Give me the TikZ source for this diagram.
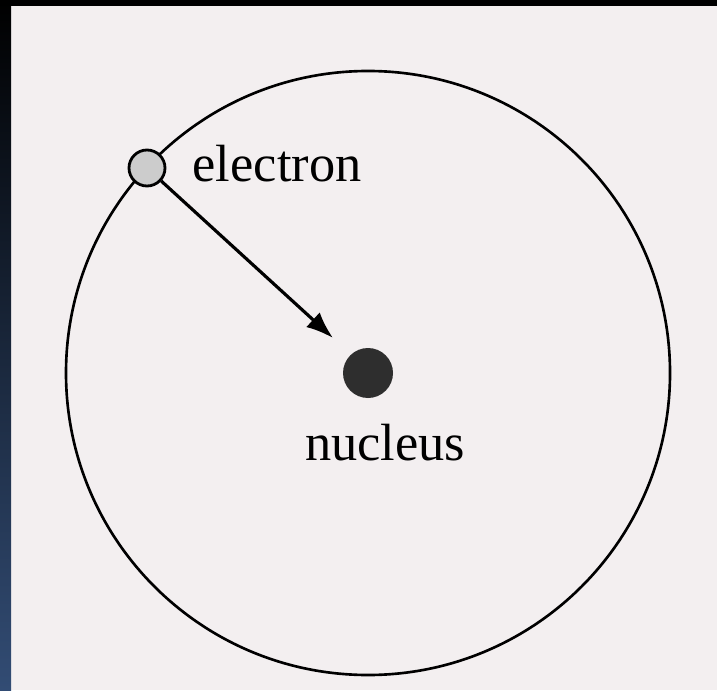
\documentclass[tikz,border=0pt]{standalone}
\usepackage{fontspec}
\setmainfont{Liberation Serif}
\usepackage{xcolor}
\usetikzlibrary{arrows.meta,positioning,calc}

\definecolor{paper}{RGB}{243,239,240}
\definecolor{scanblue}{RGB}{50,76,116}

\begin{document}
\begin{tikzpicture}[
  orbit/.style={draw=black, line width=0.75pt},
  elec/.style={circle, draw=black, line width=0.8pt, fill=black!20,
               minimum size=0.36cm, inner sep=0pt},
  nuc/.style={circle, fill=black!82, minimum size=0.5cm, inner sep=0pt},
  lbl/.style={font=\fontsize{14.9}{16}\selectfont, inner sep=0pt},
  arr/.style={-{Latex[length=2.7mm, width=2mm]}, line width=0.9pt}
]
% page and scan border
\useasboundingbox (0,0) rectangle (7.17,6.9);
\fill[paper] (0,0) rectangle (7.17,6.9);
\shade[top color=black, bottom color=scanblue] (0,0) rectangle (0.11,6.9);
\fill[black] (0,6.84) rectangle (7.17,6.9);

% orbit, electron and nucleus
\node[nuc] (N) at (3.68,3.17) {};
\draw[orbit] (N.center) circle (3.02);
\node[elec] (E) at (1.47,5.22) {};
\node[lbl, anchor=base west] (Etxt) at (1.92,5.08) {electron};
\node[lbl, anchor=base] (Ntxt) at (3.85,2.30) {nucleus};

\coordinate (tip) at (3.33,3.52);
\draw[arr] (E) -- (tip);
\end{tikzpicture}
\end{document}
